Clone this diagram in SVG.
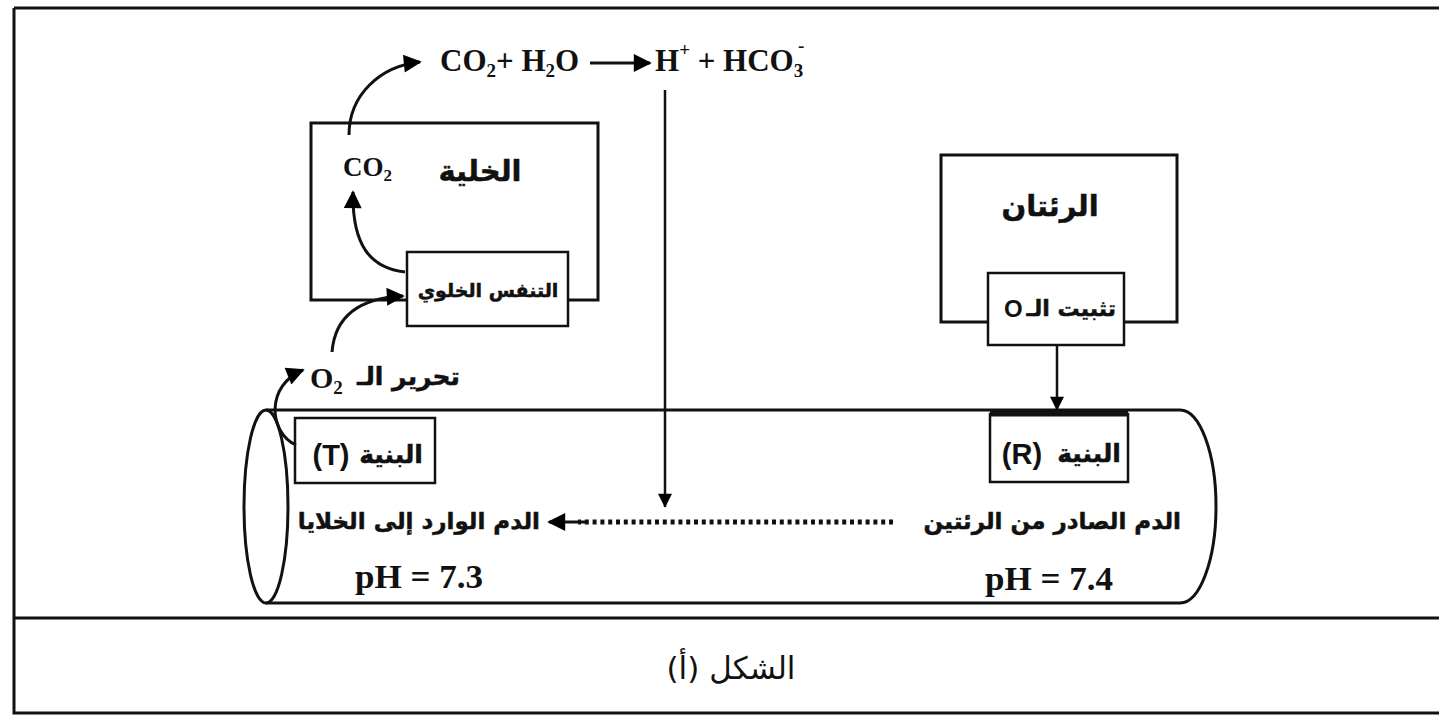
<svg xmlns="http://www.w3.org/2000/svg" width="1439" height="718" viewBox="0 0 1439 718">
<defs>
<marker id="ahb" viewBox="0 0 10 10" refX="9" refY="5" markerWidth="22" markerHeight="18" markerUnits="userSpaceOnUse" orient="auto">
<path d="M0,0 L10,5 L0,10 z" fill="#000"/>
</marker>
<marker id="ahl" viewBox="0 0 10 10" refX="9.5" refY="5" markerWidth="26" markerHeight="14" markerUnits="userSpaceOnUse" orient="auto">
<path d="M0,0 L10,5 L0,10 z" fill="#000"/>
</marker>
<style>
.box{fill:#fff;stroke:#111;stroke-width:3}
.ibox{fill:#fff;stroke:#111;stroke-width:2.5}
.ln{fill:none;stroke:#111;stroke-width:3}
.ar{font-family:"DejaVu Sans",sans-serif;font-weight:bold;fill:#111;stroke:#111;stroke-width:0.5}
.tm{font-family:"Liberation Serif",serif;font-weight:bold;fill:#111}
.sn{font-family:"Liberation Sans",sans-serif;font-weight:bold;fill:#111}
</style>
</defs>
<rect width="1439" height="718" fill="#fff"/>
<g id="frame">
<path class="ln" d="M14,8 H1439 M14,8 V713 H1439 M14,618 H1439"/>
</g>
<g id="tube">
<path class="ln" d="M266,410 H1180 A36,96.5 0 0 1 1180,603 H266"/>
<ellipse class="ln" cx="266" cy="506.5" rx="22" ry="96.5"/>
</g>
<g id="cell">
<rect class="box" x="311" y="123" width="287" height="177"/>
<text class="ar" x="480" y="181" font-size="29" text-anchor="middle">الخلية</text>
<text class="tm" x="343" y="176" font-size="27">CO<tspan font-size="17" dy="5">2</tspan></text>
</g>
<g id="respiration">
<rect class="ibox" x="407" y="252" width="161" height="74"/>
<text class="ar" x="488" y="297" font-size="19" text-anchor="middle">التنفس الخلوي</text>
</g>
<g id="lungs">
<rect class="box" x="941" y="155" width="236" height="167"/>
<text class="ar" x="1050" y="216" font-size="29" text-anchor="middle">الرئتان</text>
</g>
<g id="fixation">
<rect class="ibox" x="988" y="273" width="136" height="72"/>
<text class="ar" x="1116" y="316" font-size="22" text-anchor="end">تثبيت الـ</text>
<text class="sn" x="1004" y="317" font-size="24">O</text>
</g>
<g id="structT">
<rect class="ibox" x="295" y="418" width="140" height="65"/>
<text class="ar" x="391" y="463" font-size="25" text-anchor="middle">البنية</text>
<text class="sn" x="331" y="465" font-size="29" text-anchor="middle">(T)</text>
</g>
<g id="structR">
<rect class="ibox" x="990" y="414" width="138" height="68"/>
<path d="M990,413 H1128" stroke="#111" stroke-width="7"/>
<text class="ar" x="1089" y="462" font-size="25" text-anchor="middle">البنية</text>
<text class="sn" x="1022" y="464" font-size="29" text-anchor="middle">(R)</text>
</g>
<g id="equation">
<text class="tm" x="440" y="71" font-size="31">CO<tspan font-size="19" dy="6">2</tspan><tspan dy="-6">+ H</tspan><tspan font-size="19" dy="6">2</tspan><tspan dy="-6">O</tspan></text>
<text class="tm" x="655" y="71" font-size="31">H<tspan font-size="19" dy="-15">+</tspan><tspan dy="15"> + HCO</tspan><tspan font-size="19" dy="6">3</tspan></text>
<text class="tm" x="798" y="52" font-size="19">-</text>
</g>
<g id="o2label">
<text class="tm" x="310" y="388" font-size="30">O<tspan font-size="19" dy="6">2</tspan></text>
<text class="ar" x="460" y="385" font-size="25" text-anchor="end">تحرير الـ</text>
</g>
<g id="bloodlabels">
<text class="ar" x="540" y="529" font-size="23" text-anchor="end">الدم الوارد إلى الخلايا</text>
<text class="tm" x="355" y="588" font-size="34" textLength="128" lengthAdjust="spacingAndGlyphs">pH = 7.3</text>
<text class="ar" x="1181" y="529" font-size="23" text-anchor="end">الدم الصادر من الرئتين</text>
<text class="tm" x="985" y="590" font-size="34" textLength="128" lengthAdjust="spacingAndGlyphs">pH = 7.4</text>
</g>
<g id="caption">
<text font-family="DejaVu Sans, sans-serif" x="731" y="679" font-size="31" text-anchor="middle" fill="#111">الشكل (أ)</text>
</g>
<g id="connectors" fill="none" stroke="#111" stroke-width="3">
<path d="M349,135 C349,95 380,66 420,62" marker-end="url(#ahb)"/>
<path d="M405,272 C370,268 352,245 353,192" marker-end="url(#ahb)"/>
<path d="M332,352 C335,315 360,298 403,296" marker-end="url(#ahb)"/>
<path d="M296,445 C268,432 266,385 303,370" marker-end="url(#ahb)"/>
<path d="M590,63 H650" marker-end="url(#ahb)"/>
<path d="M665,90 V507" stroke-width="2.5" marker-end="url(#ahl)"/>
<path d="M1057,345 V410" stroke-width="2.5" marker-end="url(#ahl)"/>
<path d="M893,522 H578" stroke-width="5" stroke-dasharray="4 3.8"/>
<path d="M585,522 H549" stroke-width="3" marker-end="url(#ahb)"/>
</g>
</svg>
